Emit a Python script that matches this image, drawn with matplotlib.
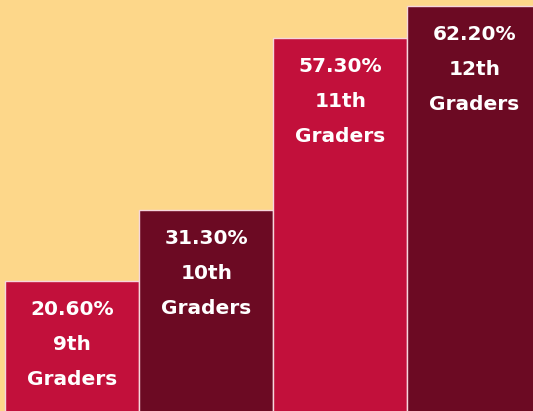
import matplotlib.pyplot as plt

grades = ["9th", "10th", "11th", "12th"]
percents = [20.6, 31.3, 57.3, 62.2]
bar_colors = ["#C2103B", "#6C0A23", "#C2103B", "#6C0A23"]


def main() -> None:
    fig = plt.figure(figsize=(5.33, 4.11), dpi=100)
    fig.patch.set_facecolor("#FDD78A")
    ax = fig.add_axes([0, 0, 1, 1])
    ax.set_facecolor("#FDD78A")

    x = list(range(len(grades)))
    bars = ax.bar(x, percents, width=1.0, color=bar_colors,
                  edgecolor="#F6D6DC", linewidth=1.0)

    # percent + grade label stacked inside the top of each bar
    for bar, grade, pct in zip(bars, grades, percents):
        label = f"{pct:.2f}%\n{grade}\nGraders"
        ax.annotate(label,
                    (bar.get_x() + bar.get_width() / 2, bar.get_height()),
                    xytext=(0, -19), textcoords="offset pixels",
                    ha="center", va="top", color="white",
                    fontsize=14.5, fontweight="bold", linespacing=2.06)

    ax.set_xlim(-0.54, 3.437)
    ax.set_ylim(0.9, 63.1)
    ax.axis("off")

    fig.savefig("out.png", dpi=100, facecolor=fig.get_facecolor())


if __name__ == "__main__":
    main()
